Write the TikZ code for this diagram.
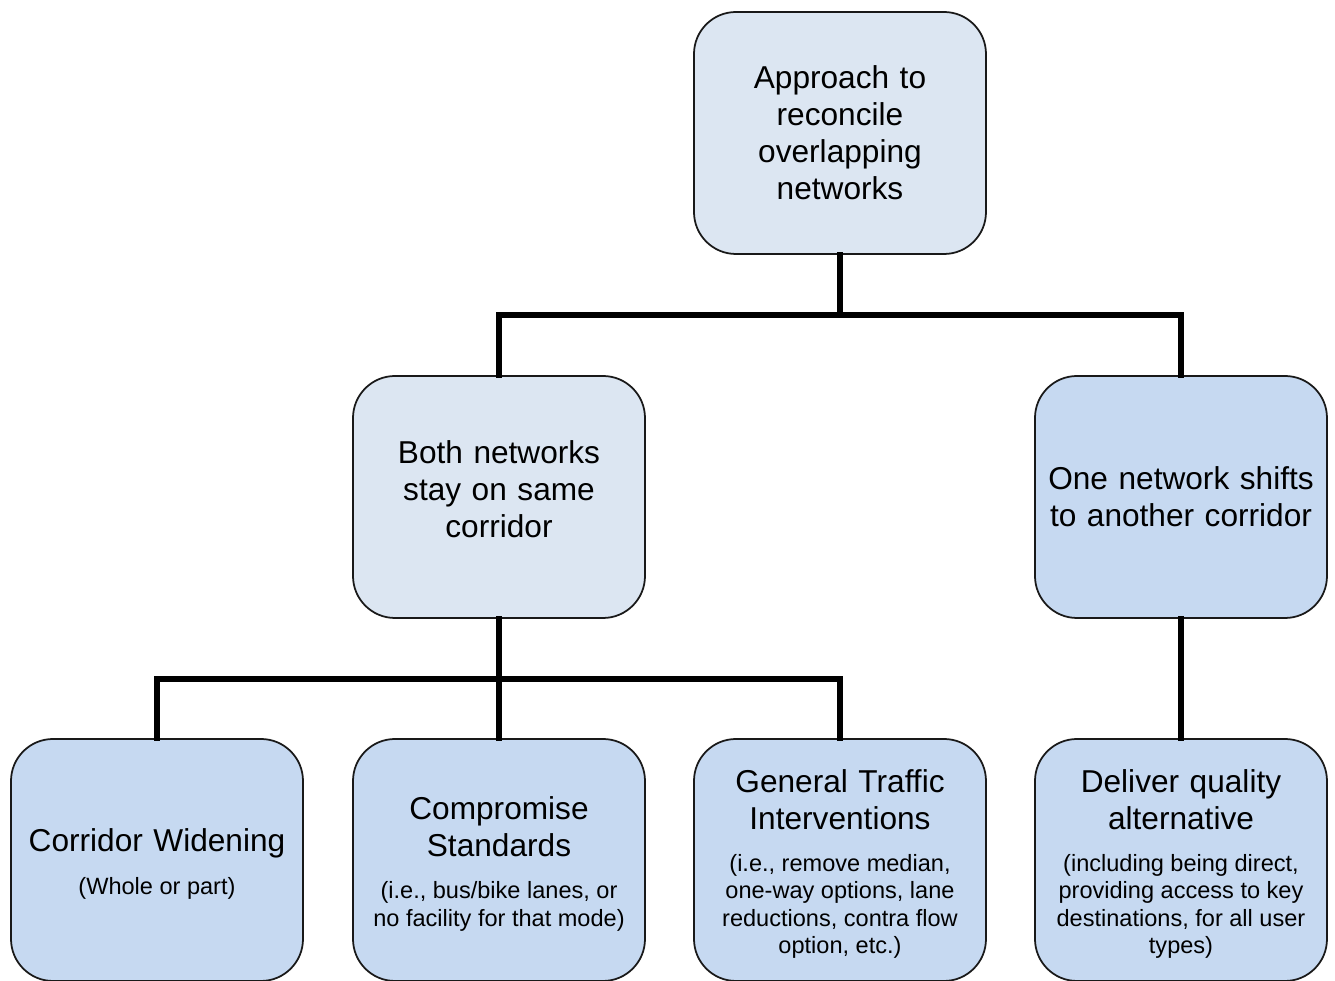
\documentclass[tikz,border=0pt]{standalone}
\usepackage{fontspec}
\setmainfont{Liberation Sans}
\usepackage{tikz}

\definecolor{palebox}{RGB}{220,230,242}
\definecolor{bluebox}{RGB}{198,217,241}
\newcommand{\notetxt}[1]{\par\vspace{4.2pt}{\fontsize{6.7}{7.8}\selectfont
  \spaceskip=\fontdimen2\font\xspaceskip=\fontdimen2\font\relax #1\par}}

\tikzset{
  box/.style={draw=black!90, line width=0.5pt, rounded corners=0.42cm, fill=bluebox,
    text width=2.8cm, inner xsep=0.06cm, minimum height=2.42cm, align=center,
    font=\fontsize{9}{10.5}\selectfont},
  palebox/.style={box, fill=palebox},
  conn/.style={line width=1.45pt, line cap=rect}
}

\begin{document}
\begin{tikzpicture}
    \useasboundingbox (0,0) rectangle (13.35,9.81);
    \node[palebox] (approach) at (8.40,8.48) {Approach to\\reconcile\\overlapping\\networks};
    \node[palebox] (same) at (4.99,4.84) {Both networks\\stay on same\\corridor\par\nointerlineskip\rule{0pt}{0.16cm}};
    \node[box] (shift) at (11.81,4.84) {One network shifts\\to another corridor};
    \node[box] (widen) at (1.57,1.21) {\rule{0pt}{0.31cm}Corridor Widening\notetxt{(Whole or part)}};
    \node[box] (compromise) at (4.99,1.21) {\rule{0pt}{0.31cm}Compromise\\Standards\notetxt{(i.e., bus/bike lanes, or\\no facility for that mode)}};
    \node[box] (traffic) at (8.40,1.21) {\rule{0pt}{0.31cm}General Traffic\\Interventions\notetxt{(i.e., remove median,\\one-way options, lane\\reductions, contra flow\\option, etc.)}};
    \node[box] (deliver) at (11.81,1.21) {\rule{0pt}{0.31cm}Deliver quality\\alternative\notetxt{(including being direct,\\providing access to key\\destinations, for all user\\types)}};
    \coordinate (split1) at (8.40,6.66);
    \coordinate (split2) at (4.99,3.02);
    \draw[conn] (approach.south) -- (split1) -| (same.north);
    \draw[conn] (split1) -| (shift.north);
    \draw[conn] (same.south) -- (split2) -| (widen.north);
    \draw[conn] (split2) -- (compromise.north);
    \draw[conn] (split2) -| (traffic.north);
    \draw[conn] (shift.south) -- (deliver.north);
\end{tikzpicture}
\end{document}
